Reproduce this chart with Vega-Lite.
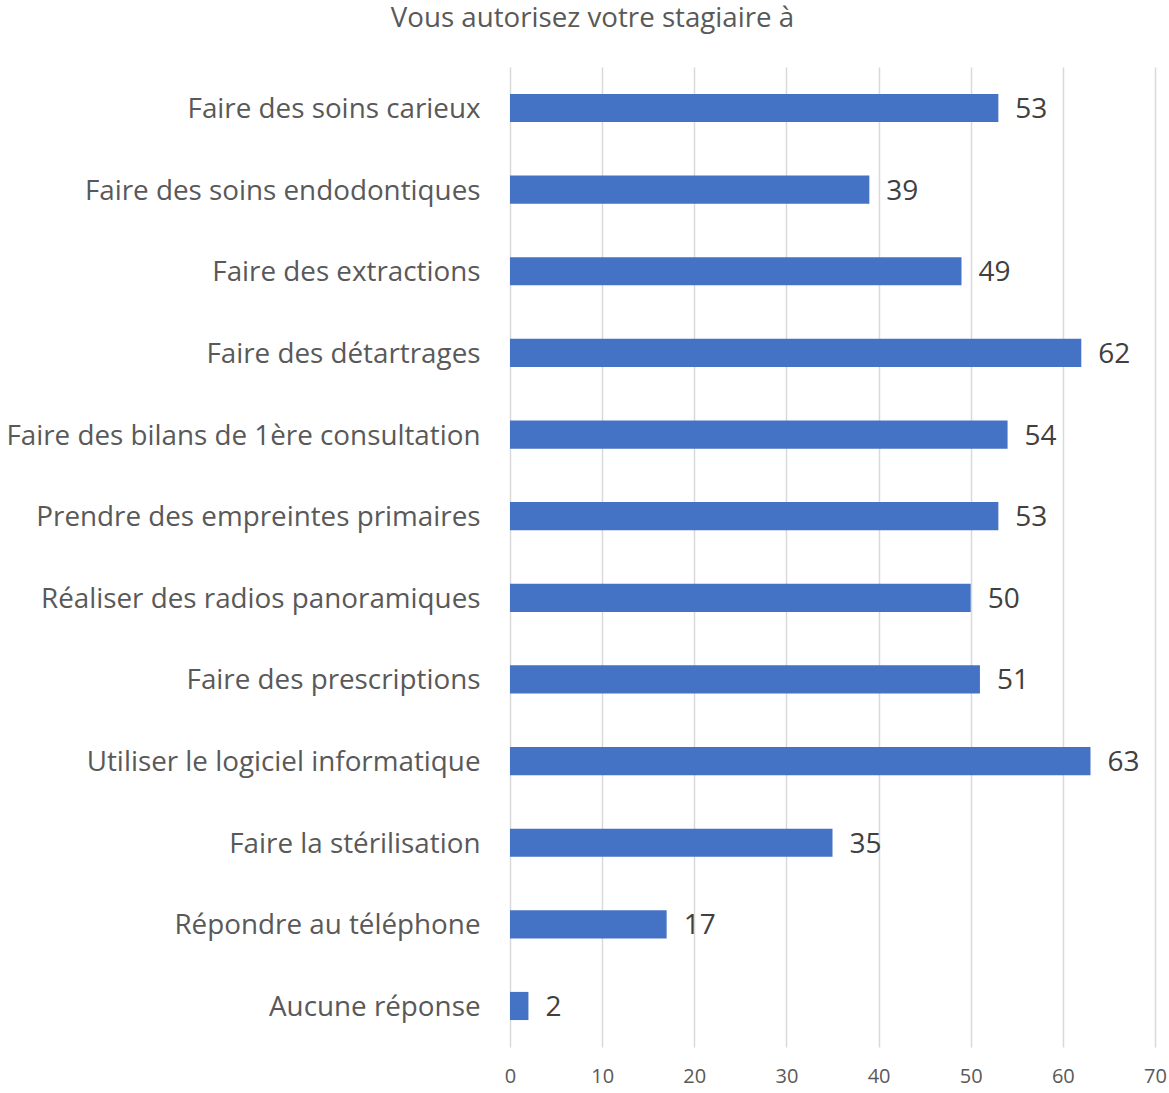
{
  "$schema": "https://vega.github.io/schema/vega-lite/v6.json",
  "width": 645,
  "height": 980,
  "autosize": "none",
  "padding": {"left": 510, "top": 67, "right": 14, "bottom": 46},
  "background": "white",
  "title": {
    "text": "Vous autorisez votre stagiaire à",
    "font": "Open Sans",
    "fontSize": 27.7,
    "fontWeight": "normal",
    "color": "#595959",
    "anchor": "middle",
    "dx": -240,
    "offset": 34
  },
  "data": {
    "values": [
      {"item": "Faire des soins carieux", "value": 53},
      {"item": "Faire des soins endodontiques", "value": 39},
      {"item": "Faire des extractions", "value": 49},
      {"item": "Faire des détartrages", "value": 62},
      {"item": "Faire des bilans de 1ère consultation", "value": 54},
      {"item": "Prendre des empreintes primaires", "value": 53},
      {"item": "Réaliser des radios panoramiques", "value": 50},
      {"item": "Faire des prescriptions", "value": 51},
      {"item": "Utiliser le logiciel informatique", "value": 63},
      {"item": "Faire la stérilisation", "value": 35},
      {"item": "Répondre au téléphone", "value": 17},
      {"item": "Aucune réponse", "value": 2}
    ]
  },
  "config": {
    "view": {"stroke": null},
    "font": "Open Sans"
  },
  "encoding": {
    "y": {
      "field": "item",
      "type": "nominal",
      "sort": null,
      "title": null,
      "scale": {"paddingInner": 0.655, "paddingOuter": 0.33},
      "axis": {
        "ticks": false,
        "domain": false,
        "labelFontSize": 27.8,
        "labelColor": "#595959",
        "labelPadding": 30,
        "labelOffset": 2,
        "labelLimit": 600,
        "labelFont": "Open Sans"
      }
    },
    "x": {
      "field": "value",
      "type": "quantitative",
      "title": null,
      "scale": {"domain": [0, 70], "nice": false},
      "axis": {
        "values": [0, 10, 20, 30, 40, 50, 60, 70],
        "ticks": false,
        "domain": false,
        "grid": true,
        "gridColor": "#d9d9d9",
        "gridWidth": 1.5,
        "labelFlush": false,
        "labelFontSize": 20,
        "labelColor": "#595959",
        "labelPadding": 19,
        "labelFont": "Open Sans"
      }
    }
  },
  "layer": [
    {"mark": {"type": "bar", "color": "#4472C4"}},
    {
      "mark": {"type": "text", "align": "left", "dx": 17, "dy": 2, "fontSize": 28, "color": "#404040", "font": "Open Sans"},
      "encoding": {"text": {"field": "value", "type": "quantitative"}}
    }
  ]
}
